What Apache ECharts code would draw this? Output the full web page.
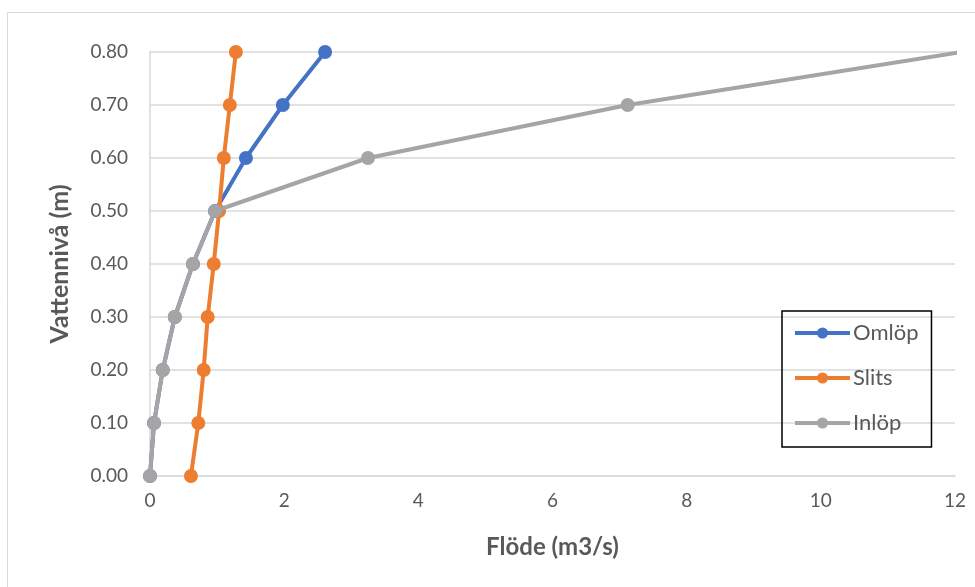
<!DOCTYPE html>
<html><head><meta charset="utf-8">
<script src="https://cdn.jsdelivr.net/npm/echarts@6/dist/echarts.min.js"></script>
<style>html,body{margin:0;padding:0;background:#fff}#c{width:975px;height:587px}</style>
</head><body><div id="c"></div>
<script>
const levels = [0.0, 0.1, 0.2, 0.3, 0.4, 0.5, 0.6, 0.7, 0.8];
const omlopFlow = [0.0, 0.06, 0.19, 0.37, 0.64, 0.97, 1.43, 1.98, 2.61];
const slitsFlow = [0.61, 0.72, 0.80, 0.86, 0.95, 1.03, 1.10, 1.19, 1.28];
const inlopFlow = [0.0, 0.06, 0.19, 0.37, 0.64, 0.97, 3.25, 7.12, 12.1];
const seriesNames = ['Omlöp', 'Slits', 'Inlöp'];
const seriesColors = ['#4472C4', '#ED7D31', '#A5A5A5'];
const flows = [omlopFlow, slitsFlow, inlopFlow];

const font = 'Lato, "Open Sans", sans-serif';
const chart = echarts.init(document.getElementById('c'), null, {renderer: 'canvas'});
chart.setOption({
  animation: false,
  graphic: [{type: 'rect', left: 5, top: 10, shape: {width: 1200, height: 900}, style: {fill: 'none', stroke: '#d9d9d9', lineWidth: 1}, silent: true}],
  grid: {left: 150, right: 20, top: 52, bottom: 111, containLabel: false},
  xAxis: {
    type: 'value', min: 0, max: 12, interval: 2,
    name: 'Flöde (m3/s)', nameLocation: 'middle', nameGap: 59,
    nameTextStyle: {fontFamily: font, fontSize: 24, fontWeight: 'bold', color: '#595959'},
    axisLine: {show: true, lineStyle: {color: '#d9d9d9', width: 1.5}},
    axisTick: {show: false},
    axisLabel: {fontFamily: font, fontSize: 19, color: '#595959', margin: 15},
    splitLine: {show: false}
  },
  yAxis: {
    type: 'value', min: 0, max: 0.8, interval: 0.1,
    name: 'Vattennivå (m)', nameLocation: 'middle', nameGap: 78,
    nameTextStyle: {fontFamily: font, fontSize: 25, fontWeight: 'bold', color: '#595959'},
    axisLine: {show: true, lineStyle: {color: '#d9d9d9', width: 1.5}},
    axisTick: {show: false},
    axisLabel: {fontFamily: font, fontSize: 19, color: '#595959', margin: 22, formatter: v => v.toFixed(2)},
    splitLine: {show: true, lineStyle: {color: '#d9d9d9', width: 1.5}}
  },
  legend: {
    orient: 'vertical', left: 782, top: 311,
    data: seriesNames,
    itemWidth: 55, itemHeight: 14, itemGap: 23,
    padding: [11, 13, 13, 11],
    borderColor: '#000', borderWidth: 1.5,
    lineStyle: {width: 4},
    textStyle: {fontFamily: font, fontSize: 22, lineHeight: 22, color: '#595959', padding: [0, 0, 0, -2]}
  },
  series: seriesNames.map((n, i) => ({
    name: n, type: 'line',
    data: flows[i].map((f, j) => [f, levels[j]]),
    symbol: 'circle', symbolSize: 14,
    lineStyle: {width: 4, color: seriesColors[i]},
    itemStyle: {color: seriesColors[i]},
    color: seriesColors[i],
    clip: true, z: 2 + i
  }))
});
</script></body></html>
